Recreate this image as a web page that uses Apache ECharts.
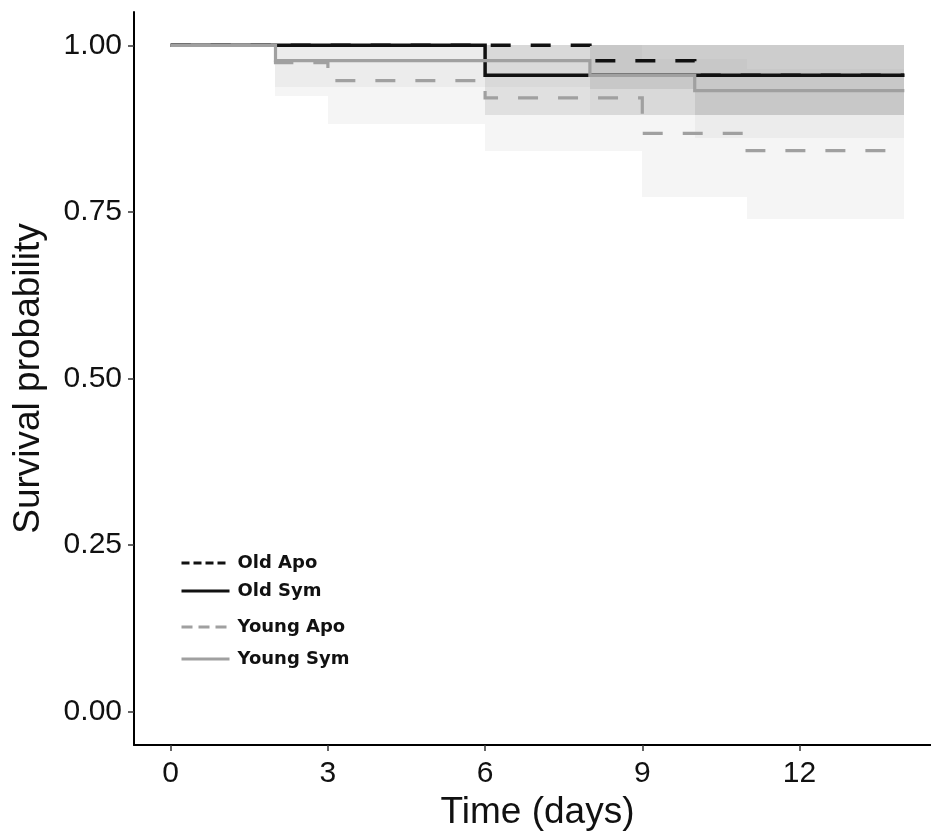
<!DOCTYPE html>
<html>
<head>
<meta charset="utf-8">
<script src="https://cdn.jsdelivr.net/npm/echarts@6/dist/echarts.min.js"></script>
<style>
html,body{margin:0;padding:0;background:#fff;}
#chart{width:931px;height:832px;}
</style>
</head>
<body>
<div id="chart"></div>
<script>
// ---- data ----
const xTicks = [0, 3, 6, 9, 12];
const yTicks = [0, 0.25, 0.5, 0.75, 1];

const oldApoTime  = [0, 8, 10, 14];
const oldApoSurv  = [1, 0.977, 0.955, 0.955];
const oldApoLower = [1, 0.934, 0.895, 0.895];
const oldApoUpper = [1, 1, 1, 1];

const oldSymTime  = [0, 6, 14];
const oldSymSurv  = [1, 0.955, 0.955];
const oldSymLower = [1, 0.895, 0.895];
const oldSymUpper = [1, 1, 1];

const youngApoTime  = [0, 2, 3, 6, 9, 11, 14];
const youngApoSurv  = [1, 0.974, 0.947, 0.921, 0.868, 0.842, 0.842];
const youngApoLower = [1, 0.924, 0.882, 0.842, 0.772, 0.740, 0.740];
const youngApoUpper = [1, 1, 1, 1, 0.980, 0.965, 0.965];

const youngSymTime  = [0, 2, 8, 10, 14];
const youngSymSurv  = [1, 0.977, 0.955, 0.932, 0.932];
const youngSymLower = [1, 0.938, 0.895, 0.861, 0.861];
const youngSymUpper = [1, 1, 1, 1, 1];

// ---- build options ----
const BLACK = '#111111';
const GREY = '#a0a0a0';

function pairs(t, v) { return t.map((x, i) => [x, v[i]]); }

function band(t, lo, hi, color) {
  const rows = [];
  for (let i = 0; i < t.length - 1; i++) rows.push([t[i], t[i + 1], lo[i], hi[i]]);
  return {
    type: 'custom', silent: true, z: 1, clip: true,
    encode: { x: [0, 1], y: [2, 3] },
    data: rows,
    renderItem: function (params, api) {
      const a = api.coord([api.value(0), api.value(3)]);
      const b = api.coord([api.value(1), api.value(2)]);
      const x0 = Math.round(a[0]), x1 = Math.round(b[0]);
      const y0 = Math.round(a[1]), y1 = Math.round(b[1]);
      return {
        type: 'rect',
        shape: { x: x0, y: y0, width: x1 - x0, height: y1 - y0 },
        style: { fill: color }
      };
    }
  };
}

function line(name, t, s, color, width, dashed) {
  return {
    type: 'line', name: name, step: 'end', symbol: 'none', showSymbol: false, data: pairs(t, s),
    lineStyle: { color: color, width: width, type: dashed ? [20, 20] : 'solid', cap: 'butt', join: 'miter' },
    itemStyle: { color: color }, z: 5, silent: true, emphasis: { disabled: true }
  };
}

const series = [
  band(oldApoTime, oldApoLower, oldApoUpper, 'rgba(0,0,0,0.09)'),
  band(oldSymTime, oldSymLower, oldSymUpper, 'rgba(0,0,0,0.09)'),
  band(youngApoTime, youngApoLower, youngApoUpper, 'rgba(160,160,160,0.10)'),
  band(youngSymTime, youngSymLower, youngSymUpper, 'rgba(160,160,160,0.10)'),
  line('Old Sym', oldSymTime, oldSymSurv, BLACK, 3.5, false),
  line('Old Apo', oldApoTime, oldApoSurv, BLACK, 3.5, true),
  line('Young Apo', youngApoTime, youngApoSurv, GREY, 3.2, true),
  line('Young Sym', youngSymTime, youngSymSurv, GREY, 3.2, false)
];

const legendText = { fontFamily: 'DejaVu Sans', fontWeight: 'bold', fontSize: 18, lineHeight: 14, color: '#111', padding: [0, 0, 0, 3] };
const hidden = { opacity: 0 };

const option = {
  animation: false,
  backgroundColor: '#ffffff',
  grid: { left: 134, top: 12, width: 807, height: 733, containLabel: false, outerBoundsMode: 'none' },
  legend: [
    {
      orient: 'vertical', left: 175, top: 549, itemWidth: 48, itemHeight: 14, itemGap: 10,
      selectedMode: false, textStyle: legendText,
      data: [
        { name: 'Old Apo', itemStyle: hidden, lineStyle: { width: 3, type: [8, 4], color: BLACK } },
        { name: 'Old Sym', itemStyle: hidden, lineStyle: { width: 3, type: 'solid', color: BLACK } }
      ]
    },
    {
      orient: 'vertical', left: 175, top: 613, itemWidth: 48, itemHeight: 14, itemGap: 14,
      selectedMode: false, textStyle: legendText,
      data: [
        { name: 'Young Apo', itemStyle: hidden, lineStyle: { width: 3, type: [11, 6], color: GREY } },
        { name: 'Young Sym', itemStyle: hidden, lineStyle: { width: 3, type: 'solid', color: GREY } }
      ]
    }
  ],
  xAxis: {
    type: 'value', min: -0.7, max: 14.7,
    name: 'Time (days)', nameLocation: 'middle', nameGap: 37,
    nameTextStyle: { fontFamily: 'Liberation Sans', fontSize: 37, color: '#111' },
    axisLine: { show: true, onZero: false, lineStyle: { color: '#000', width: 2 } },
    axisTick: { show: true, customValues: xTicks, length: 6, lineStyle: { color: '#333', width: 1.5 } },
    axisLabel: { customValues: xTicks, margin: 14, fontFamily: 'Liberation Sans', fontSize: 30, color: '#111' },
    splitLine: { show: false }
  },
  yAxis: {
    type: 'value', min: -0.05, max: 1.05,
    name: 'Survival probability', nameLocation: 'middle', nameGap: 87, nameRotate: 90,
    nameTextStyle: { fontFamily: 'Liberation Sans', fontSize: 37, color: '#111' },
    axisLine: { show: true, onZero: false, lineStyle: { color: '#000', width: 2 } },
    axisTick: { show: true, customValues: yTicks, length: 6, lineStyle: { color: '#333', width: 1.5 } },
    axisLabel: {
      customValues: yTicks, margin: 12, fontFamily: 'Liberation Sans', fontSize: 30, color: '#111',
      formatter: v => v.toFixed(2)
    },
    splitLine: { show: false }
  },
  series: series
};

const chart = echarts.init(document.getElementById('chart'), null, { renderer: 'canvas' });
chart.setOption(option);
</script>
</body>
</html>
